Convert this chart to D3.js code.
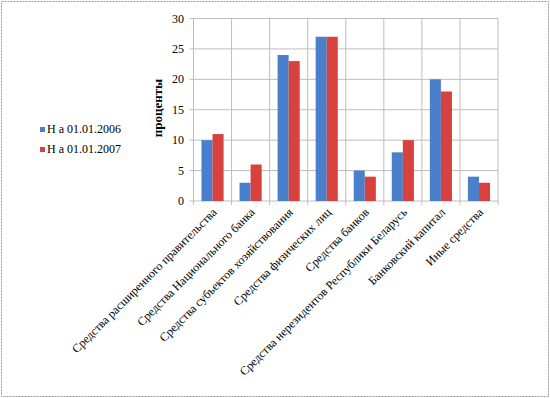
<!DOCTYPE html>
<html>
<head>
<meta charset="utf-8">
<script src="https://cdn.jsdelivr.net/npm/d3@7"></script>
<style>
  body { margin: 0; background: #fff; }
</style>
</head>
<body>
<svg id="chart" width="550" height="398"></svg>
<script>
const categories = [
  "Средства расширенного правительства",
  "Средства Национального банка",
  "Средства субъектов хозяйствования",
  "Средства физических лиц",
  "Средства банков",
  "Средства нерезидентов Республики Беларусь",
  "Банковский капитал",
  "Иные средства"
];
const seriesNames = ["Н а 01.01.2006", "Н а 01.01.2007"];
const values2006 = [10, 3, 24, 27, 5, 8, 20, 4];
const values2007 = [11, 6, 23, 27, 4, 10, 18, 3];
const yTicks = [0, 5, 10, 15, 20, 25, 30];
const colors = ["#4a7fcc", "#d7423f"];
const FONT = "Liberation Serif";

const svg = d3.select("#chart");
const width = 550, height = 398;

// dashed frame round the picture
svg.append("rect")
  .attr("x", 1.5).attr("y", 1.5)
  .attr("width", width - 3).attr("height", height - 3)
  .attr("fill", "none")
  .attr("stroke", "#9a9a9a")
  .attr("stroke-dasharray", "2,1");

const plot = { left: 193.5, right: 498, top: 18.5, bottom: 201 };

const x = d3.scaleBand()
  .domain(categories)
  .range([plot.left, plot.right]);

const y = d3.scaleLinear()
  .domain([0, 30])
  .range([plot.bottom, plot.top]);

const g = svg.append("g");

// horizontal gridlines
g.selectAll(".hgrid")
  .data(yTicks)
  .enter()
  .append("line")
  .attr("x1", plot.left - 4).attr("x2", plot.right)
  .attr("y1", d => y(d)).attr("y2", d => y(d))
  .attr("stroke", "#bdbdbd")
  .attr("stroke-width", 1);

// vertical gridlines at category boundaries
const bounds = categories.map(c => x(c)).concat([plot.right]);
g.selectAll(".vgrid")
  .data(bounds)
  .enter()
  .append("line")
  .attr("x1", d => d).attr("x2", d => d)
  .attr("y1", plot.top).attr("y2", plot.bottom + 4)
  .attr("stroke", "#bdbdbd")
  .attr("stroke-width", 1);

// bars
const inner = d3.scaleBand()
  .domain([0, 1])
  .range([0, x.bandwidth()])
  .paddingOuter(0.72)
  .paddingInner(0);

const rows = categories.map((c, i) => ({ cat: c, vals: [values2006[i], values2007[i]] }));

const groups = g.selectAll(".grp")
  .data(rows)
  .enter()
  .append("g")
  .attr("transform", d => "translate(" + x(d.cat) + ",0)");

groups.selectAll("rect")
  .data(d => d.vals.map((v, k) => ({ v, k })))
  .enter()
  .append("rect")
  .attr("x", d => inner(d.k))
  .attr("width", inner.bandwidth())
  .attr("y", d => y(d.v))
  .attr("height", d => y(0) - y(d.v))
  .attr("fill", d => colors[d.k]);

// y axis labels
g.selectAll(".ytick")
  .data(yTicks)
  .enter()
  .append("text")
  .attr("x", 184)
  .attr("y", d => y(d) + 4)
  .attr("text-anchor", "end")
  .attr("font-family", FONT)
  .style("font-size", "12px")
  .text(d => d);

svg.append("text")
  .attr("transform", "translate(162,108) rotate(-90)")
  .attr("text-anchor", "middle")
  .attr("font-family", FONT)
  .style("font-size", "13px")
  .style("font-weight", "bold")
  .text("проценты");

// category labels, rotated
g.selectAll(".xlab")
  .data(categories)
  .enter()
  .append("text")
  .attr("transform", d => "translate(" + (x(d) + x.bandwidth() / 2 + 5) + "," + (plot.bottom + 12) + ") rotate(-45)")
  .attr("text-anchor", "end")
  .attr("font-family", FONT)
  .style("font-size", "12px")
  .text(d => d);

// legend
const legend = svg.append("g");
seriesNames.forEach((name, i) => {
  const ly = 133 + i * 20;
  legend.append("rect")
    .attr("x", 40).attr("y", ly - 6)
    .attr("width", 5).attr("height", 5)
    .attr("fill", colors[i]);
  legend.append("text")
    .attr("x", 47).attr("y", ly)
    .attr("font-family", FONT)
    .style("font-size", "12px")
    .text(name);
});
</script>
</body>
</html>
